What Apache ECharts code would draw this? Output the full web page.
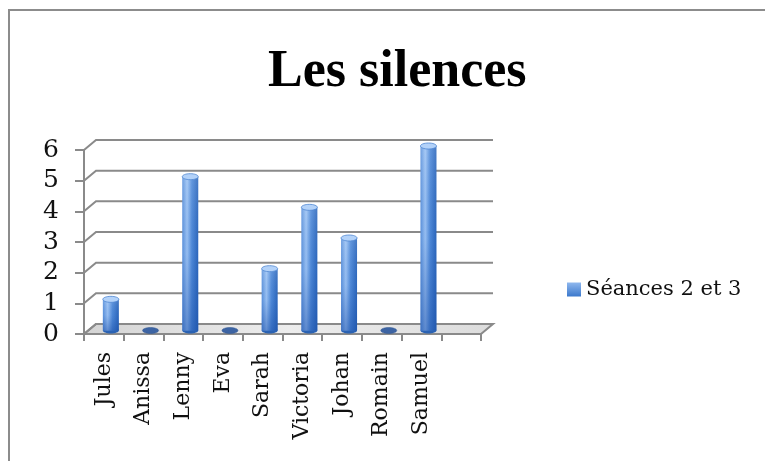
<!DOCTYPE html>
<html>
<head>
<meta charset="utf-8">
<script src="https://cdn.jsdelivr.net/npm/echarts@6/dist/echarts.min.js"></script>
<style>html,body{margin:0;padding:0;background:#fff}#chart{width:765px;height:461px}</style>
</head>
<body>
<div id="chart"></div>
<script>
var categories = ['Jules', 'Anissa', 'Lenny', 'Eva', 'Sarah', 'Victoria', 'Johan', 'Romain', 'Samuel', ''];
var seriesName = 'Séances 2 et 3';
var values = [1, 0, 5, 0, 2, 4, 3, 0, 6, null];
var yTicks = [0, 1, 2, 3, 4, 5, 6];
var titleText = 'Les silences';

var DX = 12, DY = -10;
var LINE = '#8a8a8a';
var FONT = 'DejaVu Serif';

var chart = echarts.init(document.getElementById('chart'), null, {renderer: 'canvas'});

var bodyGrad = new echarts.graphic.LinearGradient(0, 0, 1, 0, [
  {offset: 0, color: '#5b92dc'},
  {offset: 0.3, color: '#9cc3f4'},
  {offset: 0.6, color: '#4f8ad9'},
  {offset: 1, color: '#2b66bb'}
]);

var option = {
  animation: false,
  backgroundColor: '#fff',
  title: {
    text: titleText,
    left: 263, top: 42,
    textStyle: {fontFamily: 'Liberation Serif', fontWeight: 'bold', fontSize: 52, color: '#000'}
  },
  legend: {
    orient: 'vertical', left: 562, top: 274,
    itemWidth: 14, itemHeight: 14,
    data: [{name: seriesName, icon: 'rect'}],
    textStyle: {fontFamily: FONT, fontSize: 21, color: '#111'}
  },
  graphic: [
    {type: 'polyline', shape: {points: [[9, 461], [9, 10], [765, 10]]}, style: {stroke: '#8c8c8c', lineWidth: 2, fill: null}, z: 100}
  ],
  grid: {left: 84, top: 150, width: 397, height: 184},
  xAxis: {
    type: 'category', data: categories, boundaryGap: true,
    axisLine: {lineStyle: {color: LINE, width: 2}},
    axisTick: {show: true, interval: 0, length: 7, lineStyle: {color: LINE, width: 2}},
    axisLabel: {interval: 0, rotate: 90, margin: 18, fontFamily: FONT, fontSize: 22, color: '#111'},
    splitLine: {show: false}
  },
  yAxis: {
    type: 'value', min: 0, max: 6, interval: 1,
    axisLine: {show: true, lineStyle: {color: LINE, width: 2}},
    axisTick: {show: true, length: 9, lineStyle: {color: LINE, width: 2}},
    axisLabel: {margin: 25, fontFamily: FONT, fontSize: 25, color: '#111'},
    splitLine: {show: false}
  },
  series: [
    {
      type: 'custom', name: 'floor', silent: true, z: 1,
      data: [[0, 0]],
      renderItem: function (params, api) {
        var cs = params.coordSys;
        var p = api.coord([0, 0]);
        var x0 = cs.x, x1 = cs.x + cs.width, y = p[1];
        return {
          type: 'polygon',
          shape: {points: [[x0, y], [x1, y], [x1 + DX, y + DY], [x0 + DX, y + DY]]},
          style: {
            fill: new echarts.graphic.LinearGradient(0, 0, 1, 0, [
              {offset: 0, color: '#d4d4d4'}, {offset: 0.5, color: '#ededed'}, {offset: 1, color: '#dcdcdc'}
            ]),
            stroke: LINE, lineWidth: 2
          }
        };
      }
    },
    {
      type: 'custom', name: 'walls', silent: true, z: 2,
      data: yTicks.map(function (v) { return [0, v]; }),
      renderItem: function (params, api) {
        var cs = params.coordSys;
        var p = api.coord([0, api.value(1)]);
        var x0 = cs.x, x1 = cs.x + cs.width, y = p[1];
        return {
          type: 'polyline',
          shape: {points: [[x0, y], [x0 + DX, y + DY], [x1 + DX, y + DY]]},
          style: {stroke: LINE, lineWidth: 2, fill: null}
        };
      }
    },
    {
      type: 'custom', name: seriesName, z: 5,
      itemStyle: {color: new echarts.graphic.LinearGradient(0, 0, 0, 1, [
        {offset: 0, color: '#8fb8ee'}, {offset: 1, color: '#3b78cc'}
      ])},
      data: values.map(function (v, i) { return [i, v]; }),
      renderItem: function (params, api) {
        var v = api.value(1);
        if (v === null || v === undefined || isNaN(v)) return null;
        var top = api.coord([api.value(0), v]);
        var bot = api.coord([api.value(0), 0]);
        var cx = top[0] + 7, w = 16, rx = w / 2, ry = 3;
        var yt = top[1] - 4, yb = bot[1] - 3.5;
        if (v === 0) {
          return {
            type: 'ellipse',
            shape: {cx: cx, cy: yb, rx: rx, ry: ry},
            style: {fill: '#3d64a3', stroke: '#2f5590', lineWidth: 0.5}
          };
        }
        return {
          type: 'group',
          children: [
            {type: 'ellipse', shape: {cx: cx, cy: yb, rx: rx, ry: ry}, style: {fill: '#2a62b3'}},
            {type: 'rect', shape: {x: cx - rx, y: yt, width: w, height: yb - yt}, style: {fill: bodyGrad}},
            {type: 'rect', shape: {x: cx - rx, y: yt, width: w, height: yb - yt},
              style: {fill: new echarts.graphic.LinearGradient(0, 0, 0, 1, [
                {offset: 0, color: 'rgba(255,255,255,0.12)'},
                {offset: 0.5, color: 'rgba(30,80,170,0.05)'},
                {offset: 1, color: 'rgba(20,70,160,0.45)'}
              ])}},
            {type: 'ellipse', shape: {cx: cx, cy: yt, rx: rx, ry: ry}, style: {fill: '#b3d2f9', stroke: '#4f86d2', lineWidth: 0.8}}
          ]
        };
      }
    }
  ]
};
chart.setOption(option);
</script>
</body>
</html>
